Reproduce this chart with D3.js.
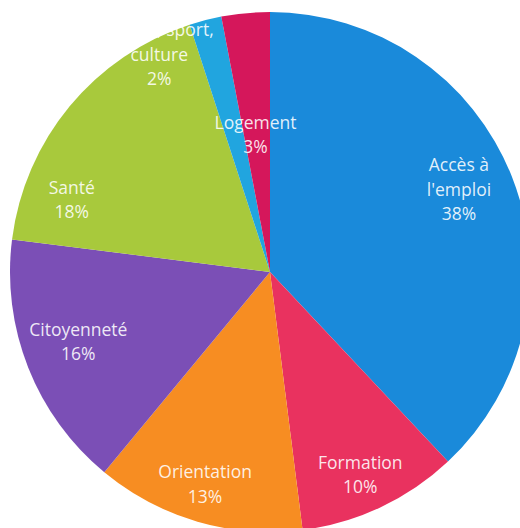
<!DOCTYPE html>
<html>
<head>
<meta charset="utf-8">
<script src="https://cdn.jsdelivr.net/npm/d3@7"></script>
<style>
  html, body { margin: 0; padding: 0; background: #fff; }
  svg { display: block; }
  .lbl { font-family: "Open Sans", sans-serif; font-size: 17.5px; fill: #fff; fill-opacity: 0.88; }
</style>
</head>
<body>
<svg id="chart" width="520" height="528"></svg>
<script>
// --- Data ----------------------------------------------------------------
const categories = ['Accès à l\'emploi', 'Formation', 'Orientation', 'Citoyenneté', 'Santé', 'Loisirs, sport, culture', 'Logement'];
const values = [38, 10, 13, 16, 18, 2, 3];
// label lines as drawn in the picture
const labelLines = [
  ['Accès à', 'l\'emploi', '38%'],
  ['Formation', '10%'],
  ['Orientation', '13%'],
  ['Citoyenneté', '16%'],
  ['Santé', '18%'],
  ['Loisirs, sport,', 'culture', '2%'],
  ['Logement', '3%'],
];
const colors = ['#1a8ada', '#e9325f', '#f78d22', '#7b4fb6', '#a8c93c', '#21a5df', '#d5175b'];

// label placement (angle in degrees clockwise from top, distance from centre)
const labelPlace = [
  { a: 66.5, r: 206 },
  { a: 156, r: 222 },
  { a: 197, r: 222 },
  { a: 250, r: 204 },
  { a: 290, r: 211 },
  { a: 333, r: 244 },
  { a: 354, r: 138 },
];

// --- Layout --------------------------------------------------------------
const cx = 270, cy = 272, radius = 260;
const lineH = 24.5;

const svg = d3.select('#chart');
const g = svg.append('g').attr('transform', `translate(${cx},${cy})`);

const pie = d3.pie().sort(null).value(d => d);
const arc = d3.arc().innerRadius(0).outerRadius(radius);

const arcs = pie(values);

g.selectAll('path.slice')
  .data(arcs)
  .join('path')
  .attr('class', 'slice')
  .attr('d', arc)
  .attr('fill', (d, i) => colors[i]);

const labels = g.selectAll('text.lbl')
  .data(arcs)
  .join('text')
  .attr('class', 'lbl')
  .attr('text-anchor', 'middle')
  .attr('transform', (d, i) => {
    const p = d3.pointRadial(labelPlace[i].a * Math.PI / 180, labelPlace[i].r);
    return `translate(${p[0]},${p[1]})`;
  });

labels.each(function (d, i) {
  const lines = labelLines[i];
  const n = lines.length;
  d3.select(this).selectAll('tspan')
    .data(lines)
    .join('tspan')
    .attr('x', 0)
    .attr('y', (l, j) => (j - (n - 1) / 2) * lineH)
    .attr('dy', '0.35em')
    .text(l => l);
});
</script>
</body>
</html>
